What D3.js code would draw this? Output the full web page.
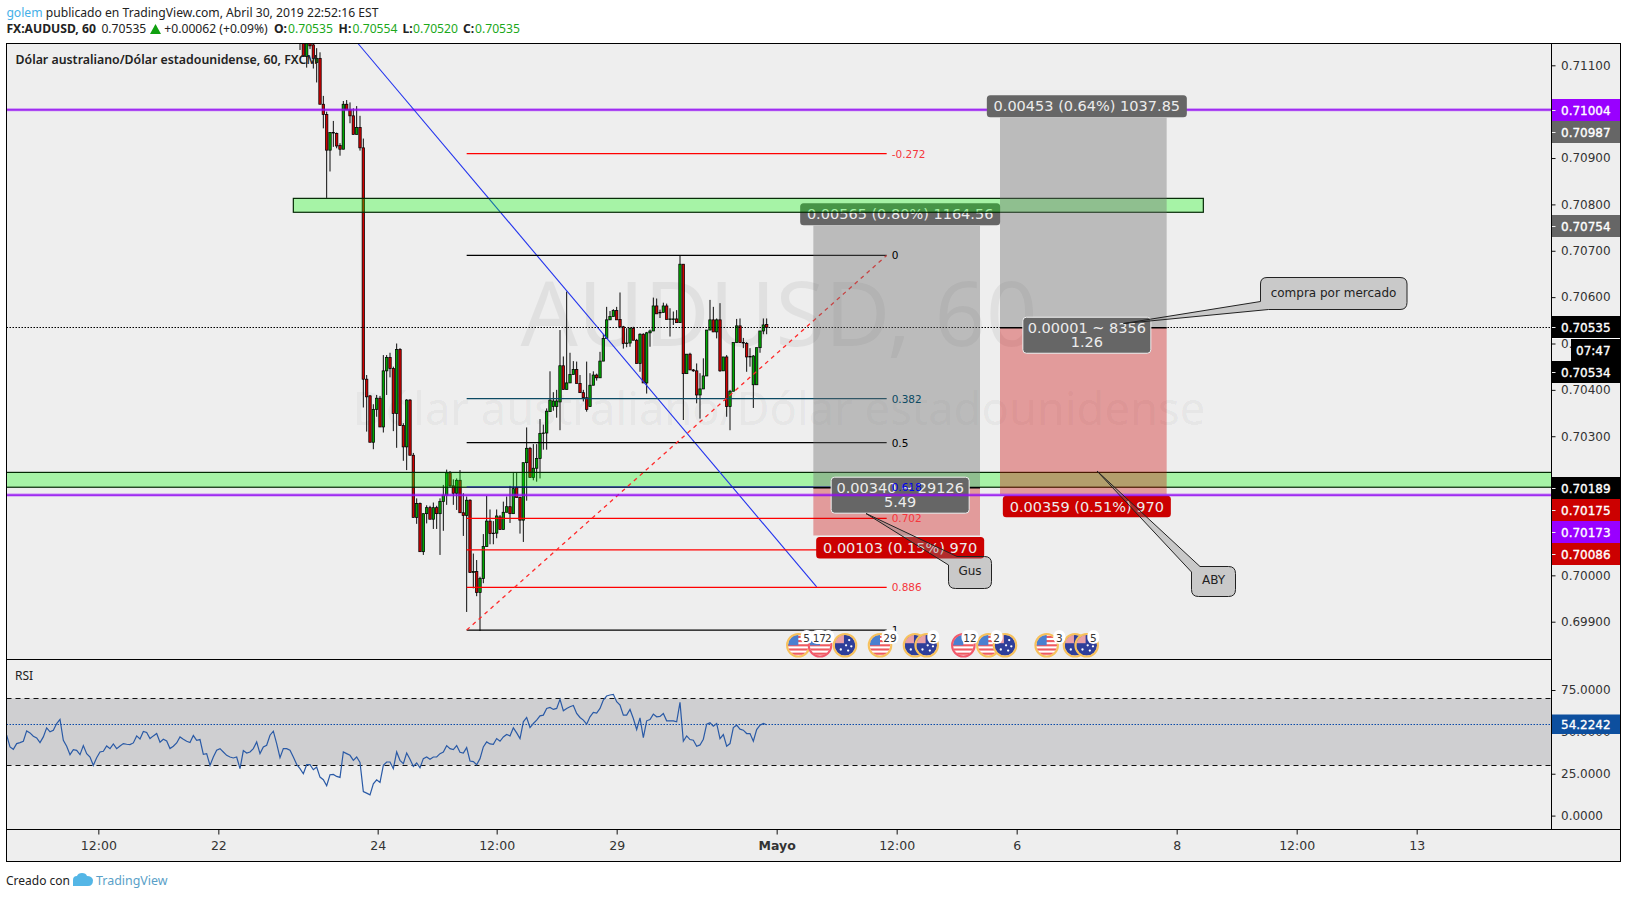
<!DOCTYPE html>
<html>
<head>
<meta charset="utf-8">
<script src="https://cdn.jsdelivr.net/npm/d3@7"></script>
<style>
  html, body { margin: 0; padding: 0; background: #fff; overflow: hidden; }
  text { font-family: "DejaVu Sans", sans-serif; }
  .ui text, text.ui { font-family: "Noto Sans", sans-serif; }
  .domain { display: none; }
</style>
</head>
<body>
<div id="chart"></div>
<script>
// prices are kept in 1e-5 units, same as the quote digits
const opens = [
  71220,71180,71119,71170,71144,71106,71115,71016,70994,70917,70955,70953,70927,70919,71016,71004,70991,70951,70966,70922,
  70423,70387,70287,70358,70382,70320,70441,70470,70446,70349,70487,70323,70277,70378,70259,70125,70155,70051,70133,70146,
  70121,70146,70133,70159,70173,70221,70193,70177,70205,70135,70129,70162,70006,70008,69963,69993,70062,70117,70090,70091,
  70126,70099,70136,70148,70133,70189,70168,70119,70243,70274,70211,70231,70252,70306,
  70307,70353,70364,70364,70374,70452,70401,70415,70433,70444,70414,70394,70383,70364,70410,70432,70426,70462,70511,70551,
  70558,70571,70552,70536,70500,70501,70533,70507,70457,70520,70415,70523,70527,70581,70566,70567,70581,70552,70552,70553,
  70545,70671,70435,70477,70443,70441,70389,70402,70430,70529,70551,70525,70551,70441,70471,70364,70397,70502,70538,70502,
  70500,70472,70411,70411,70491,70527,70541];
const highs = [
  71240,71200,71170,71180,71150,71137,71128,71034,71000,70955,70980,70955,70932,71023,71025,71020,71007,71012,70991,70942,
  70432,70389,70369,70389,70387,70475,70475,70480,70450,70500,70490,70328,70380,70380,70264,70166,70157,70133,70151,70150,
  70157,70150,70166,70195,70228,70225,70207,70209,70227,70177,70170,70164,70047,70033,69997,70089,70171,70142,70117,70142,
  70130,70159,70170,70193,70221,70221,70170,70243,70319,70277,70283,70283,70337,70325,
  70360,70440,70395,70400,70529,70472,70612,70480,70462,70461,70432,70400,70461,70436,70440,70435,70482,70520,70579,70570,
  70574,70579,70610,70538,70533,70534,70536,70510,70522,70522,70525,70530,70599,70597,70573,70588,70586,70576,70569,70572,
  70689,70671,70477,70480,70445,70457,70436,70468,70529,70594,70579,70554,70587,70471,70475,70400,70502,70553,70554,70512,
  70503,70490,70475,70491,70527,70554,70554];
const lows = [
  71133,71119,71095,71135,71093,71063,71016,70964,70814,70871,70924,70921,70905,70919,71004,70975,70951,70951,70916,70362,
  70310,70287,70272,70342,70320,70308,70389,70427,70311,70275,70323,70247,70227,70259,70125,70111,70051,70044,70112,70121,
  70100,70100,70044,70096,70152,70190,70152,70141,70135,70085,69921,70006,69972,69955,69880,69983,70062,70067,70067,70080,
  70099,70099,70136,70113,70133,70168,70090,70072,70161,70211,70205,70202,70209,70271,
  70271,70353,70355,70340,70313,70401,70401,70415,70433,70414,70394,70375,70353,70364,70410,70420,70426,70462,70511,70551,
  70558,70551,70533,70489,70492,70493,70507,70457,70439,70415,70392,70493,70527,70564,70555,70567,70552,70515,70540,70545,
  70545,70335,70435,70443,70439,70371,70338,70402,70430,70529,70525,70511,70439,70441,70342,70313,70397,70502,70502,70490,
  70439,70450,70361,70411,70480,70520,70520];
const closes = [
  71190,71119,71160,71142,71115,71115,71016,70994,70917,70955,70954,70926,70919,71016,71004,70991,70951,70966,70922,70423,
  70385,70287,70358,70382,70320,70441,70470,70446,70349,70487,70323,70277,70378,70259,70125,70155,70051,70133,70146,70121,
  70146,70133,70159,70173,70221,70193,70177,70205,70135,70129,70162,70006,70008,69963,69993,70062,70117,70090,70091,70128,
  70099,70136,70148,70133,70187,70168,70119,70243,70274,70211,70231,70252,70306,70307,
  70354,70378,70376,70376,70452,70401,70415,70433,70444,70414,70394,70383,70358,70410,70432,70426,70462,70511,70551,70558,
  70571,70551,70536,70500,70501,70533,70507,70457,70520,70415,70523,70527,70581,70564,70567,70581,70552,70553,70553,70545,
  70671,70435,70477,70443,70441,70389,70402,70430,70529,70551,70525,70551,70441,70471,70364,70397,70502,70538,70502,70501,
  70471,70471,70473,70491,70527,70540,70535];
const firstCandleBar = 88;

const rsiValues = [
  48,41,39.6,43,43.6,44.4,50.6,49.4,47.4,46.4,43.6,47,52.4,50,51,55,57.4,45,41.4,36.4,39.4,39,36.4,41.8,37,35,30,34.6,38,38.4,
  41.6,40,42.8,40,41.6,43,42.6,42.4,43.4,47.6,45.8,50.2,49.6,46,47.6,49,43.8,45.6,44.6,40,41.4,43.4,47,45.6,44.4,43.6,47.8,45,45.4,36.6,
  37,30,35,39,40,38,36,35,34.4,35,28,38.8,37.4,38,40,44,37,41,42,48,50.4,43,34.6,40,40,39,35,30.6,28,25,
  30.4,30.4,27.4,29,23,21.4,17.8,24.4,24.6,23.4,22.8,38,37,36,33,35,31.8,14.4,13.4,12.4,19,21.4,19.8,30,32,32,28,38,33,
  31,37.4,33.6,29.4,31.4,28.6,34,35,33.6,35,35,37,38,41.8,40,39.4,41.8,37.8,37.4,40.6,32.6,32.2,30.4,34,41,44,42.8,42.6,46,44.4,
  47,48.4,47.6,52.4,49.4,46,56,58.6,52.6,55,57,59.6,60,64,64.6,63.4,64,69.4,62.6,64,65,65.8,61,58.6,57,54.6,59,61.6,61.2,64,
  69,71.4,72,72.4,68,66,60,60,63.4,58,51.4,58.4,46.6,56.6,57.4,60.6,59,59.2,61,56.6,56.6,56.6,56,67.6,44.4,47.6,45.4,45,41.4,42.2,
  45.6,54.6,55.4,53.4,55,46,48.4,41.4,43,52.6,54,51.6,51,49,49,44.4,51.4,54,55,54.2242];

const priceTicks = [0.699,0.700,0.701,0.702,0.703,0.704,0.705,0.706,0.707,0.708,0.709,0.710,0.711];
const rsiTicks = [75,50,25,0];
const timeBars = [27.5,63.5,111.3,147,183,231,267,303,351,387,423];
const timeLabels = ["12:00","22","24","12:00","29","Mayo","12:00","6","8","12:00","13"];

const fibLevels = [-0.272,0,0.382,0.5,0.618,0.702,0.786,0.886,1];
const fibNames = ["-0.272","0","0.382","0.5","0.618","0.702","","0.886","1"];
const fibColors = ["#ff0000","#000000","#0c4a63","#000000","#1212b8","#ff0000","#ff0000","#ff0000","#000000"];

const tagPrices = [0.71004,0.70987,0.70754,0.70535,0.70534,0.70189,0.70175,0.70173,0.70086];
const tagColors = ["#9900ff","#666666","#666666","#000000","#000000","#000000","#cc0000","#9900ff","#cc0000"];
const tagCenters = [110,132,226,327,372,488,510,532,554];

const toolBars = [[242,292],[298,348]];
const toolEntry = [0.70189,0.70534];
const toolTarget = [0.70754,0.70987];
const toolStop = [0.70086,0.70175];
const toolTop = ["0.00565 (0.80%) 1164.56","0.00453 (0.64%) 1037.85"];
const toolBottom = ["0.00103 (0.15%) 970","0.00359 (0.51%) 970"];
const toolMid = [["0.00340 ~ 29126","5.49"],["0.00001 ~ 8356","1.26"]];

const flagBars = [237.5,244,251.5,262,272.5,276,287,294.5,299.5,312,320.5,324];
const flagKinds = ["us","us","au","us","au","au","us","us","au","us","au","au"];
const flagRings = ["#f7c15c","#f2596b","#f7c15c","#f7c15c","#f7c15c","#f7c15c","#f2596b","#f7c15c","#f7c15c","#f7c15c","#f7c15c","#f7c15c"];
const badgeBars = [240,243.8,246.5,265,278,289,297,315.8,326];
const badgeNames = ["5","17","2","29","2","12","2","3","5"];

const W = 1627, H = 898;
const paneL = 6.5, axisL = 1551.5, frameR = 1620.5;
const paneT = 43.5, paneB = 659.5, rsiB = 829.5, frameB = 861.5;

const svg = d3.select("#chart").append("svg")
    .attr("width", W)
    .attr("height", H)
    .style("display", "block");

const x = d3.scaleLinear().domain([0, 228]).range([6.67, 766.67]);
const y = d3.scaleLinear().domain([0.711, 0.699]).range([65.3, 621.7]);
const yRsi = d3.scaleLinear().domain([75, 0]).range([690, 815.6]);

const defs = svg.append("defs");
defs.append("clipPath").attr("id", "clip-main").append("rect")
    .attr("x", paneL).attr("y", paneT).attr("width", axisL - paneL).attr("height", paneB - paneT);
defs.append("clipPath").attr("id", "clip-flag").attr("clipPathUnits", "objectBoundingBox").append("circle")
    .attr("cx", 0.5).attr("cy", 0.5).attr("r", 0.5);

svg.append("rect").attr("x", paneL).attr("y", paneT)
    .attr("width", frameR - paneL).attr("height", frameB - paneT)
    .attr("fill", "#eeeeee");

const main = svg.append("g").attr("clip-path", "url(#clip-main)");

// watermark
main.append("text").attr("class", "ui")
    .attr("x", 779).attr("y", 346)
    .attr("text-anchor", "middle")
    .attr("font-size", 90)
    .attr("fill", "#000").attr("fill-opacity", 0.055)
    .text("AUDUSD, 60");
main.append("text").attr("class", "ui")
    .attr("x", 779).attr("y", 425)
    .attr("text-anchor", "middle")
    .attr("font-size", 45.3)
    .attr("fill", "#000").attr("fill-opacity", 0.055)
    .text("Dólar australiano/Dólar estadounidense");

// candles
const candles = opens.map(function (o, i) {
    return {bar: firstCandleBar + i, o: o / 1e5, h: highs[i] / 1e5, l: lows[i] / 1e5, c: closes[i] / 1e5};
});
main.append("g").selectAll("line")
    .data(candles)
    .enter()
    .append("line")
    .attr("x1", d => x(d.bar))
    .attr("x2", d => x(d.bar))
    .attr("y1", d => y(d.h))
    .attr("y2", d => y(d.l))
    .attr("stroke", "#000")
    .attr("stroke-width", 0.95);
main.append("g").selectAll("rect")
    .data(candles)
    .enter()
    .append("rect")
    .attr("x", d => x(d.bar) - 1.2)
    .attr("width", 2.4)
    .attr("y", d => y(Math.max(d.o, d.c)))
    .attr("height", d => Math.max(0.5, Math.abs(y(d.o) - y(d.c))))
    .attr("fill", d => d.c >= d.o ? "#00a800" : "#d00000")
    .attr("stroke", "#000")
    .attr("stroke-width", 0.75);

function greenZone(g, x1, x2, p1, p2) {
    g.append("rect")
        .attr("x", x1).attr("width", x2 - x1)
        .attr("y", y(p1)).attr("height", y(p2) - y(p1))
        .attr("fill", "rgb(0,255,0)").attr("fill-opacity", 0.3)
        .attr("stroke", "#042804").attr("stroke-width", 1.2);
}
function purpleLine(g, p) {
    g.append("line").attr("x1", paneL).attr("x2", axisL).attr("y1", y(p)).attr("y2", y(p))
        .attr("stroke", "#9900ff").attr("stroke-opacity", 0.45).attr("stroke-width", 3);
    g.append("line").attr("x1", paneL).attr("x2", axisL).attr("y1", y(p)).attr("y2", y(p))
        .attr("stroke", "#9010ee").attr("stroke-width", 1.2);
}

// lower support zone sits under everything else
greenZone(main, paneL - 3, axisL + 3, 0.70222, 0.70190);
purpleLine(main, 0.71004);

// blue trend line
main.append("line")
    .attr("x1", x(105.4)).attr("y1", y(0.71147))
    .attr("x2", x(243)).attr("y2", y(0.69975))
    .attr("stroke", "#2233ee").attr("stroke-width", 1.1);

// fib
const fibHigh = 0.70690, fibLow = 0.69882, fibStart = 138, fibEnd = 264;
function fibPrice(level) {
    return fibHigh - (fibHigh - fibLow) * level;
}
main.append("g").selectAll("line")
    .data(fibLevels)
    .enter()
    .append("line")
    .attr("x1", x(fibStart))
    .attr("x2", x(fibEnd))
    .attr("y1", d => y(fibPrice(d)))
    .attr("y2", d => y(fibPrice(d)))
    .attr("stroke-width", d => d == 0.618 ? 0.9 : 1.25)
    .attr("stroke", (d, i) => fibColors[i]);
main.append("line")
    .attr("x1", x(fibStart)).attr("y1", y(fibLow))
    .attr("x2", x(fibEnd)).attr("y2", y(fibHigh))
    .attr("stroke", "#ff2a2a").attr("stroke-width", 1.3).attr("stroke-dasharray", "4,4");

// last price line
main.append("line")
    .attr("x1", paneL).attr("x2", axisL)
    .attr("y1", Math.floor(y(0.70535)) + 0.5).attr("y2", Math.floor(y(0.70535)) + 0.5)
    .attr("stroke", "#000").attr("stroke-dasharray", "1.5,1.5");

function labelBox(g, cx, top, w, h, fill, border) {
    g.append("rect")
        .attr("x", cx - w / 2).attr("y", top)
        .attr("width", w).attr("height", h)
        .attr("rx", 3.5)
        .attr("fill", fill)
        .attr("stroke", border || "none");
}
function labelText(g, cx, base, str) {
    g.append("text")
        .attr("x", cx).attr("y", base)
        .attr("text-anchor", "middle")
        .attr("font-size", 14.5)
        .attr("fill", "#ececec")
        .text(str);
}

// label of the left tool goes below the upper green box, the grey block goes above it
labelBox(main, x(267) + 3.5, y(toolTarget[0]) - 22.5, 200, 22, "#666666");
labelText(main, x(267) + 3.5, y(toolTarget[0]) - 6.5, toolTop[0]);
greenZone(main, x(86), x(359), 0.70813, 0.70783);

toolBars.forEach(function (b, i) {
    const x1 = x(b[0]), x2 = x(b[1]);
    main.append("rect")
        .attr("x", x1).attr("width", x2 - x1)
        .attr("y", y(toolTarget[i])).attr("height", y(toolEntry[i]) - y(toolTarget[i]))
        .attr("fill", "rgb(107,107,107)").attr("fill-opacity", 0.39);
    main.append("rect")
        .attr("x", x1).attr("width", x2 - x1)
        .attr("y", y(toolEntry[i])).attr("height", y(toolStop[i]) - y(toolEntry[i]))
        .attr("fill", "rgb(204,0,0)").attr("fill-opacity", 0.35);
    main.append("line")
        .attr("x1", x1).attr("x2", x2)
        .attr("y1", y(toolEntry[i])).attr("y2", y(toolEntry[i]))
        .attr("stroke", "#000").attr("stroke-width", 1.5);
});

toolBars.forEach(function (b, i) {
    const cx = (x(b[0]) + x(b[1])) / 2 + 3.5;
    if (i == 1) {
        labelBox(main, cx, y(toolTarget[i]) - 22.5, 200, 22, "#666666");
        labelText(main, cx, y(toolTarget[i]) - 6.5, toolTop[i]);
    }
    const stopW = 168;
    labelBox(main, cx, y(toolStop[i]) + 1.5, stopW, 21.5, "#cc0000");
    labelText(main, cx, y(toolStop[i]) + 17.5, toolBottom[i]);
    const midW = i == 0 ? 138 : 128;
    labelBox(main, cx, y(toolEntry[i]) - 10.5, midW, 36, "#666666", "#f0f0f0");
    labelText(main, cx, y(toolEntry[i]) + 5.5, toolMid[i][0]);
    labelText(main, cx, y(toolEntry[i]) + 19.5, toolMid[i][1]);
});

purpleLine(main, 0.70173);

// fib labels
main.append("g").selectAll("text")
    .data(fibLevels)
    .enter()
    .append("text")
    .attr("x", x(fibEnd) + 5)
    .attr("y", d => y(fibPrice(d)) + 4)
    .attr("font-size", 10.5)
    .attr("fill", (d, i) => fibColors[i] == "#ff0000" ? "#f5363c" : (d == 0.618 ? "#0000ee" : fibColors[i]))
    .text((d, i) => fibNames[i]);

// callouts
const calloutFill = "rgb(128,128,128)", calloutAlpha = 0.34;
function callout(g, left, top, w, h, tipX, tipY, aY, bX, str) {
    const r = 7;
    const right = left + w, bottom = top + h;
    let path = "M" + bX + "," + top;
    path += "L" + (right - r) + "," + top + "Q" + right + "," + top + " " + right + "," + (top + r);
    path += "L" + right + "," + (bottom - r) + "Q" + right + "," + bottom + " " + (right - r) + "," + bottom;
    path += "L" + (left + r) + "," + bottom + "Q" + left + "," + bottom + " " + left + "," + (bottom - r);
    path += "L" + left + "," + aY + "L" + tipX + "," + tipY + "Z";
    g.append("path").attr("d", path)
        .attr("fill", calloutFill).attr("fill-opacity", calloutAlpha)
        .attr("stroke", "#222");
    g.append("text")
        .attr("x", left + w / 2).attr("y", top + h / 2 + 2.5)
        .attr("text-anchor", "middle")
        .attr("font-size", 12)
        .attr("fill", "#222")
        .text(str);
}
callout(main, 948.5, 556.5, 43, 32, 866, 513.5, 565, 957, "Gus");
callout(main, 1191.5, 566.5, 44, 30, 1097, 471, 572, 1200, "ABY");

// this one has the pointer on the left edge going up to the tool label
const cp = "M1260.5,284Q1260.5,277.5 1267,277.5L1400,277.5Q1407,277.5 1407,284L1407,302.5Q1407,309.5 1400,309.5"
    + "L1268.5,309.5L1123.5,323.5L1260.5,301.5Z";
main.append("path").attr("d", cp)
    .attr("fill", calloutFill).attr("fill-opacity", calloutAlpha)
    .attr("stroke", "#222");
main.append("text")
    .attr("x", 1333.5).attr("y", 296.5)
    .attr("text-anchor", "middle")
    .attr("font-size", 12)
    .attr("fill", "#222")
    .text("compra por mercado");

// calendar flags
function drawFlag(g, cx, cy, kind, ring) {
    const f = g.append("g");
    const r = 10.5;
    const inner = f.append("svg")
        .attr("x", cx - r).attr("y", cy - r)
        .attr("width", r * 2).attr("height", r * 2)
        .attr("viewBox", "0 0 20 20");
    const clip = inner.append("g").attr("clip-path", "url(#clip-flag)");
    if (kind == "us") {
        clip.append("rect").attr("width", 20).attr("height", 20).attr("fill", "#fff");
        [0, 4, 8, 12, 16].forEach(function (s) {
            clip.append("rect").attr("y", s + 1).attr("width", 20).attr("height", 2).attr("fill", "#ef5a60");
        });
        clip.append("rect").attr("width", 10).attr("height", 10).attr("fill", "#4a7fd0");
    } else {
        clip.append("rect").attr("width", 20).attr("height", 20).attr("fill", "#2f3f9a");
        clip.append("rect").attr("width", 9).attr("height", 8).attr("fill", "#e9a0a8");
        [[14, 5], [11, 10], [16, 11], [13, 15], [6, 14]].forEach(function (p) {
            clip.append("circle").attr("cx", p[0]).attr("cy", p[1]).attr("r", 1.1).attr("fill", "#fff");
        });
    }
    f.append("circle").attr("cx", cx).attr("cy", cy).attr("r", r + 0.8)
        .attr("fill", "none").attr("stroke", ring).attr("stroke-width", 2);
}
flagBars.forEach(function (b, i) {
    drawFlag(main, x(b), 645.3, flagKinds[i], flagRings[i]);
});
badgeBars.forEach(function (b, i) {
    const w = badgeNames[i].length > 1 ? 17 : 12;
    main.append("rect")
        .attr("x", x(b) - w / 2).attr("y", 630).attr("width", w).attr("height", 14).attr("rx", 6)
        .attr("fill", "#fff");
});
badgeBars.forEach(function (b, i) {
    main.append("text")
        .attr("x", x(b)).attr("y", 641.5)
        .attr("text-anchor", "middle")
        .attr("font-size", 10.5)
        .attr("fill", "#333")
        .text(badgeNames[i]);
});

// pane title
svg.append("text").attr("class", "ui")
    .attr("x", 15.5).attr("y", 64)
    .attr("font-size", 12.35)
    .attr("font-weight", 600)
    .attr("fill", "#222")
    .text("Dólar australiano/Dólar estadounidense, 60, FXCM");

// rsi pane
svg.append("rect")
    .attr("x", paneL).attr("width", axisL - paneL)
    .attr("y", yRsi(70)).attr("height", yRsi(30) - yRsi(70))
    .attr("fill", "#cfcfd1");
[70, 30].forEach(function (v) {
    svg.append("line")
        .attr("x1", paneL).attr("x2", axisL)
        .attr("y1", Math.floor(yRsi(v)) + 0.5).attr("y2", Math.floor(yRsi(v)) + 0.5)
        .attr("stroke", "#111").attr("stroke-dasharray", "5,4");
});
svg.append("line")
    .attr("x1", paneL).attr("x2", axisL)
    .attr("y1", Math.floor(yRsi(54.2242)) + 0.5).attr("y2", Math.floor(yRsi(54.2242)) + 0.5)
    .attr("stroke", "#0a4aa8").attr("stroke-dasharray", "1.5,1.5");
const rsiLine = d3.line()
    .x((d, i) => x(i))
    .y(d => yRsi(d));
svg.append("path")
    .attr("d", rsiLine(rsiValues))
    .attr("fill", "none")
    .attr("stroke", "#2a5aa6")
    .attr("stroke-width", 1.2);
svg.append("text").attr("class", "ui")
    .attr("x", 15).attr("y", 680)
    .attr("font-size", 12)
    .attr("fill", "#222")
    .text("RSI");

// axes
function styleAxis(g) {
    g.selectAll("line").attr("stroke", "#111");
    g.selectAll("text").attr("font-size", 12).attr("fill", "#333").attr("font-family", '"DejaVu Sans"');
}
const priceAxis = svg.append("g")
    .attr("transform", "translate(" + axisL + ",0)")
    .call(d3.axisRight(y).tickValues(priceTicks).tickSize(4).tickPadding(5.5).tickFormat(d3.format(".5f")));
styleAxis(priceAxis);

const rsiAxis = svg.append("g")
    .attr("transform", "translate(" + axisL + ",0)")
    .call(d3.axisRight(yRsi).tickValues(rsiTicks).tickSize(4).tickPadding(5.5).tickFormat(d3.format(".4f")));
styleAxis(rsiAxis);

const timeAxis = svg.append("g")
    .attr("transform", "translate(0," + rsiB + ")")
    .call(d3.axisBottom(x).tickValues(timeBars).tickSize(5).tickPadding(7)
        .tickFormat((d, i) => timeLabels[i]));
styleAxis(timeAxis);
timeAxis.selectAll("text").attr("font-size", 12.5)
    .attr("font-weight", (d, i) => timeLabels[i] == "Mayo" ? "bold" : "normal");

// coloured price tags
const tags = svg.append("g");
tagPrices.forEach(function (p, i) {
    tags.append("rect")
        .attr("x", axisL).attr("y", tagCenters[i] - 11)
        .attr("width", frameR - axisL).attr("height", 22)
        .attr("fill", tagColors[i]);
    tags.append("line")
        .attr("x1", axisL).attr("x2", axisL + 4)
        .attr("y1", Math.floor(tagCenters[i]) + 0.5).attr("y2", Math.floor(tagCenters[i]) + 0.5)
        .attr("stroke", "#eee");
    tags.append("text")
        .attr("x", axisL + 9.5).attr("y", tagCenters[i] + 4.5)
        .attr("font-size", 12)
        .attr("fill", "#fff").attr("stroke", "#fff").attr("stroke-width", 0.35)
        .text(d3.format(".5f")(p));
});
// countdown under the last price
tags.append("rect")
    .attr("x", 1571).attr("y", 339).attr("width", frameR - 1571).attr("height", 22).attr("fill", "#000");
tags.append("line").attr("x1", 1551.5).attr("x2", frameR).attr("y1", 338.5).attr("y2", 338.5).attr("stroke", "#fff");
tags.append("text")
    .attr("x", 1576).attr("y", 355)
    .attr("font-size", 12)
    .attr("fill", "#fff").attr("stroke", "#fff").attr("stroke-width", 0.35)
    .text("07:47");
// rsi tag, leaves the foot of the 50 label showing
tags.append("rect")
    .attr("x", axisL).attr("y", 714.5).attr("width", frameR - axisL).attr("height", 19.5)
    .attr("fill", "#0d4f9e");
tags.append("text")
    .attr("x", axisL + 9.5).attr("y", 729)
    .attr("font-size", 12)
    .attr("fill", "#fff").attr("stroke", "#fff").attr("stroke-width", 0.3)
    .text(d3.format(".4f")(rsiValues[rsiValues.length - 1]));

// frame
svg.append("rect").attr("x", paneL).attr("y", paneT)
    .attr("width", frameR - paneL).attr("height", frameB - paneT)
    .attr("fill", "none").attr("stroke", "#000");
svg.append("line").attr("x1", axisL).attr("x2", axisL).attr("y1", paneT).attr("y2", rsiB).attr("stroke", "#000");
[paneB, rsiB].forEach(function (v) {
    svg.append("line").attr("x1", paneL).attr("x2", v == rsiB ? frameR : axisL).attr("y1", v).attr("y2", v).attr("stroke", "#000");
});

// header
const head = svg.append("g").attr("class", "ui").attr("font-size", 12.15);
const line1 = head.append("text").attr("x", 6.4).attr("y", 17).attr("fill", "#222");
line1.append("tspan").attr("fill", "#45b0e8").text("golem");
line1.append("tspan").text(" publicado en TradingView.com, Abril 30, 2019 22:52:16 EST");

function headText(px, str, color, bold) {
    head.append("text").attr("x", px).attr("y", 33)
        .attr("fill", color)
        .attr("font-weight", bold ? "bold" : "normal")
        .text(str);
}
headText(6.4, "FX:AUDUSD, 60", "#222", true);
headText(101.4, "0.70535", "#222");
head.append("path").attr("d", "M150,34L161,34L155.5,24Z").attr("fill", "#11a011");
headText(164.3, "+0.00062 (+0.09%)", "#222");
headText(274, "O:", "#222", true);
headText(288, "0.70535", "#1ba81b");
headText(338.6, "H:", "#222", true);
headText(352.5, "0.70554", "#1ba81b");
headText(402.5, "L:", "#222", true);
headText(413, "0.70520", "#1ba81b");
headText(463, "C:", "#222", true);
headText(475, "0.70535", "#1ba81b");

// footer
svg.append("text").attr("class", "ui")
    .attr("x", 6).attr("y", 885).attr("font-size", 12).attr("fill", "#222")
    .text("Creado con");
svg.append("path")
    .attr("d", "M73,886L73,880Q73,876 77,876Q78,873 82,873Q86,873 87,876Q92,876 93,880Q93,886 88,886Z")
    .attr("fill", "#54b6e6");
svg.append("text").attr("class", "ui")
    .attr("x", 96).attr("y", 885).attr("font-size", 12.45).attr("fill", "#5a9fc8")
    .text("TradingView");
</script>
</body>
</html>
